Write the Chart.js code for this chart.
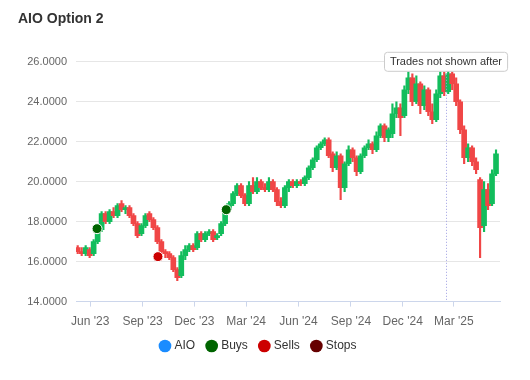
<!DOCTYPE html>
<html>
<head>
<meta charset="utf-8">
<title>AIO Option 2</title>
<script src="https://cdn.jsdelivr.net/npm/chart.js@4.4.0/dist/chart.umd.min.js"></script>
<style>
  html, body { margin: 0; padding: 0; background: #fff; }
  #wrap { width: 530px; height: 380px; }
</style>
</head>
<body>
<div id="wrap"><canvas id="chart" width="530" height="380"></canvas></div>
<script>
// Weekly candles, first week starting 2023-05-10
const firstWeek = Date.UTC(2023, 4, 10);
const DAY = 24 * 3600 * 1000;

const opens = [16.7, 16.5, 16.4, 16.6, 16.4, 17.0, 17.6, 18.4, 18.0, 18.5,
  18.3, 18.9, 18.6, 18.7, 18.3, 17.9, 17.4, 17.8, 18.4, 18.1,
  17.7, 17.0, 16.5, 16.4, 16.2, 15.6, 15.3, 16.3, 16.6, 16.8,
  16.7, 17.4, 17.1, 17.4, 17.5, 17.2, 17.4, 17.9, 18.6, 18.9,
  19.4, 19.8, 19.3, 18.9, 19.8, 19.5, 20.0, 19.7, 19.6, 20.0,
  19.6, 19.0, 18.8, 19.7, 20.0, 19.8, 20.0, 19.9, 20.2, 20.7,
  21.1, 21.7, 21.9, 22.1, 21.4, 20.7, 21.3, 19.7, 20.9, 21.6,
  21.2, 20.5, 21.3, 21.7, 21.9, 21.6, 22.3, 22.8, 22.2, 22.4,
  23.4, 23.7, 23.3, 24.6, 25.2, 24.0, 24.9, 23.8, 24.6, 23.5,
  23.1, 24.4, 25.3, 24.5, 25.4, 24.9, 24.0, 22.6, 21.2, 21.7,
  21.0, 20.1, 17.8, 19.6, 18.9, 20.4];
const closes = [16.5, 16.4, 16.7, 16.3, 17.0, 17.6, 18.4, 18.0, 18.5, 18.3,
  18.8, 18.6, 18.7, 18.3, 17.9, 17.3, 17.8, 18.3, 18.1, 17.7,
  17.0, 16.5, 16.4, 16.2, 15.6, 15.2, 16.3, 16.6, 16.8, 16.6,
  17.4, 17.1, 17.4, 17.5, 17.1, 17.3, 17.9, 18.6, 18.9, 19.4,
  19.8, 19.3, 18.9, 19.8, 19.5, 20.0, 19.7, 19.6, 20.0, 19.6,
  19.0, 18.8, 19.7, 20.0, 19.8, 20.0, 19.9, 20.2, 20.7, 21.1,
  21.7, 21.9, 22.1, 21.3, 20.7, 21.3, 19.7, 20.9, 21.6, 21.2,
  20.5, 21.3, 21.7, 21.9, 21.6, 22.3, 22.8, 22.2, 22.6, 23.4,
  23.7, 23.2, 24.6, 25.2, 24.0, 24.9, 23.8, 24.6, 23.5, 23.1,
  24.4, 25.3, 24.5, 25.4, 24.9, 24.0, 22.6, 21.2, 21.7, 21.0,
  20.6, 17.7, 19.6, 18.8, 20.4, 21.4];
const highs = [16.8, 16.7, 16.8, 16.7, 17.1, 17.7, 18.5, 18.5, 18.6, 18.7,
  18.9, 19.05, 18.8, 18.8, 18.4, 18.0, 17.9, 18.4, 18.5, 18.2,
  17.8, 17.1, 16.6, 16.5, 16.3, 15.7, 16.5, 16.8, 16.9, 16.9,
  17.5, 17.5, 17.5, 17.6, 17.6, 17.4, 18.0, 18.7, 19.0, 19.5,
  19.9, 19.9, 19.4, 20.0, 20.2, 20.2, 20.1, 19.9, 20.2, 20.1,
  19.7, 19.2, 19.8, 20.1, 20.1, 20.1, 20.1, 20.3, 20.8, 21.2,
  21.8, 22.0, 22.2, 22.2, 21.5, 21.5, 21.4, 21.0, 21.8, 21.7,
  21.3, 21.4, 21.8, 22.1, 22.0, 22.5, 22.9, 22.9, 22.7, 23.9,
  24.0, 23.9, 24.8, 25.5, 25.4, 25.3, 25.0, 24.8, 24.7, 23.9,
  24.6, 25.5, 25.5, 25.55, 25.5, 25.2, 24.1, 22.8, 21.9, 21.8,
  21.2, 20.2, 20.0, 19.9, 20.6, 21.6];
const lows = [16.4, 16.3, 16.3, 16.2, 16.3, 16.9, 17.5, 17.9, 17.9, 18.2,
  18.2, 18.5, 18.4, 18.2, 17.8, 17.2, 17.3, 17.7, 18.0, 17.6,
  16.9, 16.4, 16.2, 16.1, 15.5, 15.05, 15.2, 16.1, 16.5, 16.5,
  16.6, 17.0, 17.0, 17.3, 17.0, 17.1, 17.3, 17.8, 18.5, 18.8,
  19.3, 19.2, 18.8, 18.8, 19.4, 19.4, 19.6, 19.5, 19.5, 19.5,
  18.8, 18.7, 18.7, 19.5, 19.7, 19.7, 19.8, 19.8, 20.1, 20.6,
  21.0, 21.6, 21.8, 21.2, 20.5, 20.6, 19.1, 19.5, 20.8, 21.0,
  20.3, 20.4, 21.2, 21.6, 21.4, 21.5, 22.2, 22.0, 22.0, 22.2,
  23.2, 22.3, 23.2, 24.4, 23.8, 23.9, 23.4, 23.6, 23.3, 22.9,
  23.0, 24.2, 24.3, 24.4, 24.6, 23.8, 22.4, 20.9, 21.0, 20.8,
  20.4, 16.2, 17.5, 18.6, 18.8, 20.3];

// Trade markers
const buyDates = ['2023-06-13', '2024-01-26'];
const buyPrices = [17.65, 18.6];
const sellDates = ['2023-09-28'];
const sellPrices = [16.25];
const stopDates = [];
const stopPrices = [];

// Axis ticks
const tickDates = ['2023-06-01', '2023-09-01', '2023-12-01', '2024-03-01',
  '2024-06-01', '2024-09-01', '2024-12-01', '2025-03-01'];
const tickLabels = ["Jun '23", "Sep '23", "Dec '23", "Mar '24",
  "Jun '24", "Sep '24", "Dec '24", "Mar '25"];
const xMin = Date.UTC(2023, 4, 7);
const xMax = Date.UTC(2025, 4, 21);
const cutoffDate = Date.UTC(2025, 1, 15);
const cutoffLabel = 'Trades not shown after';

const legendOrder = ['AIO', 'Buys', 'Sells', 'Stops'];
const legendColors = { 'AIO': '#1a8cff', 'Buys': '#006400', 'Sells': '#cc0000', 'Stops': '#660000' };

const upColor = '#12bd5c';
const downColor = '#f04646';

function ts(s) {
    return Date.parse(s + 'T00:00:00Z');
}

const weekTimes = opens.map((o, i) => firstWeek + i * 7 * DAY);
const candleColors = opens.map((o, i) => closes[i] >= o ? upColor : downColor);

const bodies = weekTimes.map((t, i) => ({ x: t, y: [opens[i], closes[i]] }));
const wicks = weekTimes.map((t, i) => ({ x: t, y: [lows[i], highs[i]] }));
const buys = buyDates.map((d, i) => ({ x: ts(d), y: buyPrices[i] }));
const sells = sellDates.map((d, i) => ({ x: ts(d), y: sellPrices[i] }));
const stops = stopDates.map((d, i) => ({ x: ts(d), y: stopPrices[i] }));

// Dotted "trades not shown after" line with its label
const plotLinePlugin = {
    id: 'plotLine',
    afterDatasetsDraw(chart) {
        const { ctx, chartArea, scales } = chart;
        const x = Math.round(scales.x.getPixelForValue(cutoffDate)) + 0.5;
        ctx.save();
        ctx.strokeStyle = '#9f9fe3';
        ctx.lineWidth = 1;
        ctx.setLineDash([1, 2]);
        ctx.beginPath();
        ctx.moveTo(x, chartArea.top);
        ctx.lineTo(x, chartArea.bottom);
        ctx.stroke();
        ctx.restore();
    },
    afterDraw(chart) {
        const { ctx, chartArea, scales } = chart;
        const x = scales.x.getPixelForValue(cutoffDate);
        ctx.save();
        ctx.font = '11px "Liberation Sans", Arial, sans-serif';
        const w = ctx.measureText(cutoffLabel).width + 11;
        const h = 19;
        const left = Math.round(x - w / 2) + 0.5;
        const top = chartArea.top - 10 + 0.5;
        ctx.fillStyle = '#ffffff';
        ctx.strokeStyle = '#cccccc';
        ctx.lineWidth = 1;
        ctx.beginPath();
        ctx.roundRect(left, top, w, h, 3);
        ctx.fill();
        ctx.stroke();
        ctx.fillStyle = '#333333';
        ctx.textBaseline = 'middle';
        ctx.textAlign = 'center';
        ctx.fillText(cutoffLabel, x, top + h / 2);
        ctx.restore();
    }
};

Chart.defaults.font.family = '"Liberation Sans", Arial, Helvetica, sans-serif';

const ctx = document.getElementById('chart').getContext('2d');
const chart = new Chart(ctx, {
    type: 'bar',
    data: {
        datasets: [
            {
                label: 'Buys', type: 'line', data: buys, showLine: false,
                pointRadius: 5, pointBackgroundColor: '#006400',
                pointBorderColor: '#ffffff', pointBorderWidth: 1, order: 1
            },
            {
                label: 'Sells', type: 'line', data: sells, showLine: false,
                pointRadius: 5, pointBackgroundColor: '#cc0000',
                pointBorderColor: '#ffffff', pointBorderWidth: 1, order: 1
            },
            {
                label: 'Stops', type: 'line', data: stops, showLine: false,
                pointRadius: 5, pointBackgroundColor: '#660000',
                pointBorderColor: '#ffffff', pointBorderWidth: 1, order: 1
            },
            {
                label: 'AIO', data: bodies, backgroundColor: candleColors,
                barThickness: 5, minBarLength: 2, grouped: false, order: 2
            },
            {
                label: 'AIO wick', data: wicks, backgroundColor: candleColors,
                barThickness: 1.5, grouped: false, order: 3
            }
        ]
    },
    options: {
        responsive: false,
        animation: false,
        events: [],
        layout: { padding: { left: 18, right: 30, top: 0, bottom: 18 } },
        scales: {
            x: {
                type: 'linear',
                min: xMin,
                max: xMax,
                offset: false,
                afterBuildTicks: (scale) => {
                    scale.ticks = tickDates.map(d => ({ value: ts(d) }));
                },
                afterFit: (scale) => { scale.height -= 10; },
                ticks: {
                    autoSkip: false,
                    maxRotation: 0,
                    padding: 8,
                    color: '#666666',
                    font: { size: 12 },
                    callback: (value) => tickLabels[tickDates.map(ts).indexOf(value)]
                },
                grid: {
                    offset: false,
                    drawOnChartArea: false,
                    drawTicks: true,
                    tickLength: 5,
                    color: '#ccd6eb'
                },
                border: { color: '#ccd6eb' }
            },
            y: {
                min: 14,
                max: 26,
                afterFit: (scale) => { scale.width = 58; },
                ticks: {
                    stepSize: 2,
                    padding: 9,
                    color: '#666666',
                    font: { size: 11 },
                    callback: (v) => v.toFixed(4)
                },
                grid: { color: '#e6e6e6', drawTicks: false },
                border: { display: false }
            }
        },
        plugins: {
            title: {
                display: true,
                text: 'AIO Option 2',
                align: 'start',
                color: '#333333',
                font: { size: 14, weight: 'bold' },
                padding: { top: 11, bottom: 34 }
            },
            legend: {
                position: 'bottom',
                labels: {
                    usePointStyle: true,
                    boxWidth: 7,
                    boxHeight: 9,
                    padding: 13,
                    color: '#333333',
                    font: { size: 12 },
                    generateLabels: (chart) => legendOrder.map(name => {
                        const i = chart.data.datasets.findIndex(ds => ds.label === name);
                        return {
                            text: name,
                            fillStyle: legendColors[name],
                            strokeStyle: legendColors[name],
                            lineWidth: 0,
                            pointStyle: 'circle',
                            fontColor: '#333333',
                            hidden: false,
                            datasetIndex: i
                        };
                    })
                }
            },
            tooltip: { enabled: false }
        }
    },
    plugins: [plotLinePlugin]
});
</script>
</body>
</html>
